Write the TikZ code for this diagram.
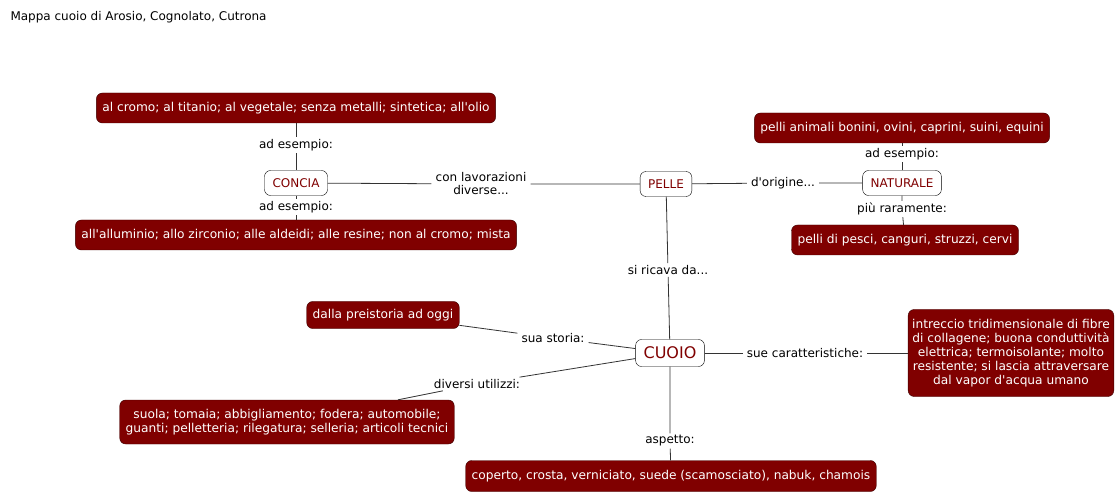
\documentclass[tikz,border=0pt]{standalone}
\usepackage{fontspec}
\setmainfont{DejaVu Sans}[Ligatures=TeXOff]
\definecolor{cuoiored}{RGB}{128,0,0}
\definecolor{cuoioedge}{RGB}{60,0,0}
\tikzset{
  concept/.style={draw=black, rounded corners=6pt, fill=white, text=cuoiored,
    minimum height=25pt, inner xsep=8pt, font=\fontsize{12}{14}\selectfont},
  example/.style={draw=cuoioedge, rounded corners=6pt, fill=cuoiored, text=white,
    minimum height=30pt, inner xsep=6pt, align=center, font=\fontsize{12.2}{14}\selectfont},
  link/.style={inner xsep=4pt, inner ysep=2pt, align=center, font=\fontsize{12}{13}\selectfont},
  conn/.style={draw=black!80, line width=0.8pt}
}
\begin{document}
\begin{tikzpicture}[x=1pt,y=-1pt]
  \useasboundingbox (0,0) rectangle (1119,494);
  % title
  \node[anchor=west, font=\fontsize{12}{14}\selectfont] (title) at (7,17) {Mappa cuoio di Arosio, Cognolato, Cutrona};

  % CONCIA
  \node[concept] (concia) at (296,183) {CONCIA};
  \node[example] (concia1) at (296,108) {al cromo; al titanio; al vegetale; senza metalli; sintetica; all'olio};
  \node[link] (es1) at (296,145) {ad esempio:};
  \node[example] (concia2) at (296,235) {all'alluminio; allo zirconio; alle aldeidi; alle resine; non al cromo; mista};
  \node[link] (es2) at (296,207) {ad esempio:};
  \draw[conn] (concia1) -- (es1) -- (concia);
  \draw[conn] (concia) -- (es2) -- (concia2);

  % PELLE
  \node[concept] (pelle) at (666,184) {PELLE};
  \node[link] (lavor) at (481,184) {con lavorazioni\\diverse...};
  \draw[conn] (concia) -- (lavor) -- (pelle);

  % NATURALE
  \node[concept] (naturale) at (902,183) {NATURALE};
  \node[link] (origine) at (783,183) {d'origine...};
  \draw[conn] (pelle) -- (origine) -- (naturale);
  \node[example] (nat1) at (902,128) {pelli animali bonini, ovini, caprini, suini, equini};
  \node[link] (es3) at (902,154) {ad esempio:};
  \node[example] (nat2) at (905,240) {pelli di pesci, canguri, struzzi, cervi};
  \node[link] (rara) at (902,209) {più raramente:};
  \draw[conn] (naturale) -- (es3) -- (nat1);
  \draw[conn] (naturale) -- (rara) -- (nat2);

  % CUOIO
  \node[concept, minimum height=27pt, font=\fontsize{16}{18}\selectfont] (cuoio) at (670,353) {CUOIO};
  \node[link] (ricava) at (668,270) {si ricava da...};
  \draw[conn] (pelle) -- (ricava) -- (cuoio);

  % storia
  \node[example, minimum height=27pt] (storia) at (383,315) {dalla preistoria ad oggi};
  \node[link] (sstoria) at (553,338) {sua storia:};
  \draw[conn] (cuoio) -- (sstoria) -- (storia);

  % utilizzi
  \node[example, minimum height=44pt] (usi) at (287,422) {suola; tomaia; abbigliamento; fodera; automobile;\\guanti; pelletteria; rilegatura; selleria; articoli tecnici};
  \node[link] (dusi) at (477,384) {diversi utilizzi:};
  \draw[conn] (cuoio) -- (dusi) -- (usi);

  % aspetto
  \node[example, minimum height=31pt] (tipi) at (671,476) {coperto, crosta, verniciato, suede (scamosciato), nabuk, chamois};
  \node[link] (aspetto) at (670,441) {aspetto:};
  \draw[conn] (cuoio) -- (aspetto) -- (tipi);

  % caratteristiche
  \node[example, minimum height=87pt, inner xsep=4pt] (caratt) at (1011,353) {intreccio tridimensionale di fibre\\di collagene; buona conduttività\\elettrica; termoisolante; molto\\resistente; si lascia attraversare\\dal vapor d'acqua umano};
  \node[link] (scaratt) at (805,353) {sue caratteristiche:};
  \draw[conn] (cuoio) -- (scaratt) -- (caratt);
\end{tikzpicture}
\end{document}
